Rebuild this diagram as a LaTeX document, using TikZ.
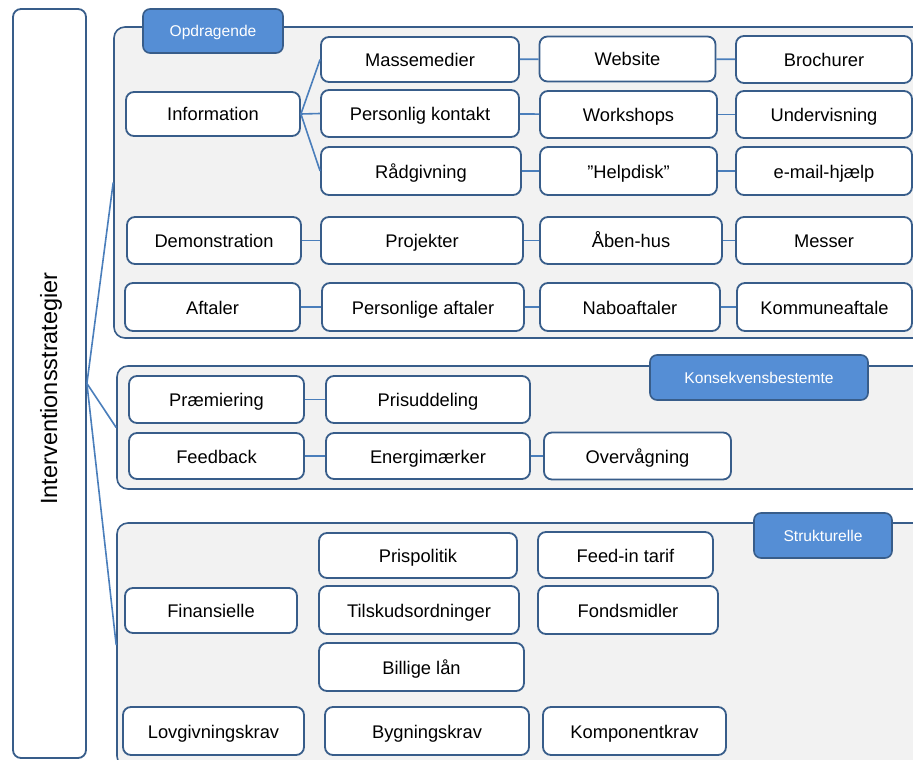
\documentclass[tikz,border=0pt]{standalone}
\usepackage{fontspec}
\setmainfont{Liberation Sans}
\definecolor{edge}{RGB}{56,93,138}
\definecolor{linkblue}{RGB}{74,126,187}
\definecolor{tabblue}{RGB}{85,142,213}
\definecolor{panel}{RGB}{242,242,242}
\begin{document}
\begin{tikzpicture}[x=1pt,y=-1pt,
  sz/.style 2 args={minimum width=#1pt, minimum height=#2pt},
  grp/.style={draw=edge, line width=1.6pt, fill=panel, rounded corners=11pt, inner sep=0pt},
  tabbox/.style={draw=edge, line width=1.6pt, fill=tabblue, rounded corners=7pt, inner sep=0pt,
    text=white, font=\fontsize{15.6}{18}\selectfont, text height=11.4pt, text depth=0pt},
  item/.style={draw=edge, line width=1.8pt, fill=white, rounded corners=8pt, inner sep=0pt,
    text=black, font=\fontsize{18.3}{21}\selectfont, text height=14pt, text depth=0pt},
  link/.style={draw=linkblue, line width=1.6pt}]
\useasboundingbox (0,0) rectangle (913,760);
\clip (0,0) rectangle (913,760);

% root column
\node[item, sz={73}{749}] (main) at (49.5,383.5) {};
\node[rotate=90, font=\fontsize{23.5}{26}\selectfont, inner sep=0pt] (mainlabel) at (51,388.5) {Interventionsstrategier};

% group panels
\node[grp, sz={816}{311}] (g1) at (522,182.5) {};
\node[grp, sz={813}{123}] (g2) at (523.5,427.5) {};
\node[grp, sz={813}{244}] (g3) at (523.5,645) {};

\draw[link] (main.east) -- (g1.west);
\draw[link] (main.east) -- (g2.west);
\draw[link] (main.east) -- (g3.west);

% group headings
\node[tabbox, sz={140}{44}] (t1) at (213,31) {Opdragende};
\node[tabbox, sz={218}{45}] (t2) at (759,377.5) {Konsekvensbestemte};
\node[tabbox, sz={138}{45}] (t3) at (823,535.5) {Strukturelle};

% Opdragende
\node[item, sz={174}{44}] (info) at (213,114) {Information};
\node[item, sz={198}{45}] (mass) at (420,59.5) {Massemedier};
\node[item, sz={198}{47}] (pers) at (420,113.5) {Personlig kontakt};
\node[item, sz={200}{48}] (raad) at (421,171) {Rådgivning};
\node[item, sz={176}{45}] (web) at (627.5,59) {Website};
\node[item, sz={177}{47}] (work) at (628.5,114.5) {Workshops};
\node[item, sz={177}{48}] (help) at (628.5,171) {”Helpdisk”};
\node[item, sz={176}{47}] (broc) at (824,59.5) {Brochurer};
\node[item, sz={176}{47}] (undv) at (824,114.5) {Undervisning};
\node[item, sz={176}{48}] (mail) at (824,171) {e-mail-hjælp};

\node[item, sz={174}{47}] (demo) at (214,240.5) {Demonstration};
\node[item, sz={202}{47}] (proj) at (422,240.5) {Projekter};
\node[item, sz={182}{47}] (aabn) at (631,240.5) {Åben-hus};
\node[item, sz={176}{47}] (mess) at (824,240.5) {Messer};

\node[item, sz={175}{48}] (aft) at (212.5,307) {Aftaler};
\node[item, sz={202}{48}] (paft) at (423,307) {Personlige aftaler};
\node[item, sz={180}{48}] (nabo) at (630,307) {Naboaftaler};
\node[item, sz={175}{48}] (komm) at (824.5,307) {Kommuneaftale};

\draw[link] (info.east) -- (mass.west);
\draw[link] (info.east) -- (pers.west);
\draw[link] (info.east) -- (raad.west);
\draw[link] (mass) -- (web);
\draw[link] (web) -- (broc);
\draw[link] (pers) -- (work);
\draw[link] (work) -- (undv);
\draw[link] (raad) -- (help);
\draw[link] (help) -- (mail);
\draw[link] (demo) -- (proj);
\draw[link] (proj) -- (aabn);
\draw[link] (aabn) -- (mess);
\draw[link] (aft) -- (paft);
\draw[link] (paft) -- (nabo);
\draw[link] (nabo) -- (komm);

% Konsekvensbestemte
\node[item, sz={175}{47}] (praem) at (216.5,399.5) {Præmiering};
\node[item, sz={204}{47}] (pris) at (428,399.5) {Prisuddeling};
\node[item, sz={175}{46}] (feed) at (216.5,456) {Feedback};
\node[item, sz={204}{46}] (energ) at (428,456) {Energimærker};
\node[item, sz={187}{47}] (overv) at (637.5,456) {Overvågning};

\draw[link] (praem) -- (pris);
\draw[link] (feed) -- (energ);
\draw[link] (energ) -- (overv);

% Strukturelle
\node[item, sz={172}{45}] (fin) at (211,610.5) {Finansielle};
\node[item, sz={198}{45}] (prisp) at (418,555.5) {Prispolitik};
\node[item, sz={175}{46}] (feedin) at (625.5,555) {Feed-in tarif};
\node[item, sz={200}{48}] (tilsk) at (419,610) {Tilskudsordninger};
\node[item, sz={180}{48}] (fonds) at (628,610) {Fondsmidler};
\node[item, sz={205}{48}] (laan) at (421.5,667) {Billige lån};
\node[item, sz={181}{48}] (lov) at (213.5,731) {Lovgivningskrav};
\node[item, sz={204}{48}] (byg) at (427,731) {Bygningskrav};
\node[item, sz={183}{48}] (komp) at (634.5,731) {Komponentkrav};
\end{tikzpicture}
\end{document}
